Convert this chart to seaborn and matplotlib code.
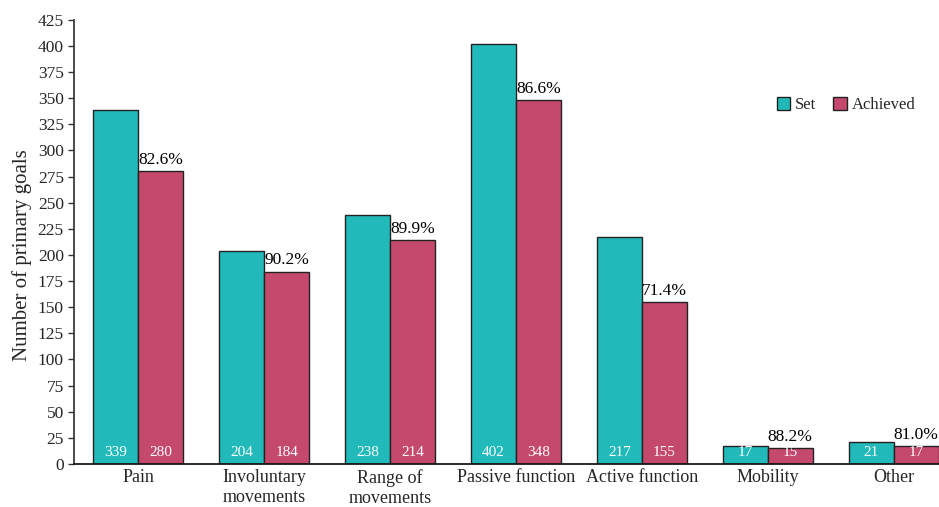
import pandas as pd
import matplotlib.pyplot as plt
import seaborn as sns

categories = ["Pain", "Involuntary\nmovements", "Range of\nmovements", "Passive function",
              "Active function", "Mobility", "Other"]
set_vals = [339, 204, 238, 402, 217, 17, 21]
achieved_vals = [280, 184, 214, 348, 155, 15, 17]
pct_labels = ["82.6%", "90.2%", "89.9%", "86.6%", "71.4%", "88.2%", "81.0%"]
y_ticks = list(range(0, 426, 25))

df = pd.DataFrame({
    "category": categories * 2,
    "value": set_vals + achieved_vals,
    "series": ["Set"] * len(categories) + ["Achieved"] * len(categories),
})

sns.set_theme(style="ticks")
plt.rcParams["font.family"] = ["Liberation Serif", "DejaVu Serif"]

fig = plt.figure(figsize=(9.39, 5.07), dpi=100)
ax = fig.add_axes([0.079, 0.085, 0.921, 0.876])

colors = {"Set": "#21B9B9", "Achieved": "#C5496C"}
sns.barplot(data=df, x="category", y="value", hue="series", palette=colors,
            width=0.714, edgecolor="#222222", linewidth=1.0, saturation=1,
            ax=ax)

# white counts near the base of each bar
for cont in ax.containers:
    for bar in cont:
        h = bar.get_height()
        ax.text(bar.get_x() + bar.get_width() / 2, 11, f"{int(h)}",
                ha="center", va="center", color="white", fontsize=11)

# achievement percentage above the achieved bars
for bar, lab in zip(ax.containers[1], pct_labels):
    ax.text(bar.get_x() + bar.get_width() / 2, bar.get_height() + 3, lab,
            ha="center", va="bottom", color="black", fontsize=12.5)

ax.set_ylim(0, 425)
ax.set_yticks(y_ticks)
ax.set_xlim(-0.51, 6.36)
ax.set_xlabel("")
ax.set_ylabel("Number of primary goals", fontsize=15)
ax.yaxis.set_label_coords(-0.049, 0.47)
ax.tick_params(axis="y", labelsize=12.5, length=4, width=1, color="#333333")
ax.tick_params(axis="x", labelsize=13, length=0, pad=4)
sns.despine(ax=ax)
ax.spines["left"].set_color("#333333")
ax.spines["bottom"].set_color("#111111")

ax.legend(title=None, frameon=False, loc="upper right", bbox_to_anchor=(0.99, 0.86),
          ncol=2, fontsize=12, handlelength=0.8, handleheight=0.8,
          handletextpad=0.3, columnspacing=1.0)

plt.savefig("out.png", dpi=100)
plt.close()
